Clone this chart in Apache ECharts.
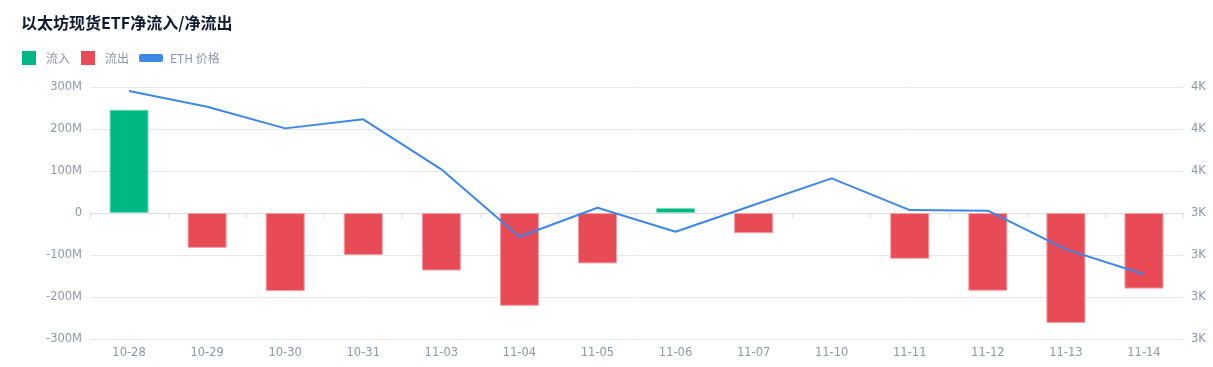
<!DOCTYPE html>
<html>
<head>
<meta charset="utf-8">
<script src="https://cdn.jsdelivr.net/npm/echarts@6/dist/echarts.min.js"></script>
<style>
html,body{margin:0;padding:0;background:#fff;}
#c{width:1213px;height:367px;}
</style>
</head>
<body>
<div id="c"></div>
<script>
const categories = ['10-28','10-29','10-30','10-31','11-03','11-04','11-05','11-06','11-07','11-10','11-11','11-12','11-13','11-14'];
// net flows in millions USD
const inflow = [246, '-', '-', '-', '-', '-', '-', 12, '-', '-', '-', '-', '-', '-'];
const outflow = ['-', -83, -186, -100, -137, -221, -120, '-', -48, '-', -109, -185, -262, -180];
// ETH price in USD
const ethPrice = [3981, 3906, 3803, 3846, 3608, 3287, 3425, 3311, 3438, 3565, 3414, 3411, 3227, 3108];

const FONT = "'DejaVu Sans', 'Noto Sans CJK SC', sans-serif";
const GREEN = '#00B884';
const RED = '#E84B55';
const BLUE = '#3D87E8';
const LABEL = '#8E97A8';

const chart = echarts.init(document.getElementById('c'));
chart.setOption({
  animation: false,
  textStyle: { fontFamily: FONT },
  title: {
    text: '以太坊现货ETF净流入/净流出',
    left: 16, top: 10,
    textStyle: { fontSize: 16, fontWeight: 'bold', color: '#0E1A30', fontFamily: "'Noto Sans CJK SC', sans-serif" }
  },
  legend: [
    {
      data: ['流入', '流出'],
      left: 22, top: 51, padding: 0,
      icon: 'rect', itemWidth: 14, itemHeight: 14, itemGap: 11,
      itemStyle: { borderWidth: 0 },
      textStyle: { color: LABEL, fontSize: 12, padding: [0, 0, 0, 5], fontFamily: "'Noto Sans CJK SC', sans-serif" }
    },
    {
      data: ['ETH 价格'],
      left: 139, top: 52, padding: 0,
      icon: 'roundRect', itemWidth: 24, itemHeight: 8,
      itemStyle: { borderWidth: 0 },
      textStyle: { color: LABEL, fontSize: 12, padding: [0, 0, 0, 2], fontFamily: "'Noto Sans CJK SC', sans-serif" }
    }
  ],
  grid: { left: 90, right: 30, top: 87, bottom: 28 },
  xAxis: [
    {
      type: 'category', data: categories, boundaryGap: true,
      axisLine: { onZero: true, lineStyle: { color: '#DCDFE4' } },
      axisTick: { show: true, length: 5, lineStyle: { color: '#DCDFE4' } },
      axisLabel: { show: false }
    },
    {
      type: 'category', data: categories, boundaryGap: true, position: 'bottom',
      axisLine: { show: false, onZero: false },
      axisTick: { show: false },
      axisLabel: { color: LABEL, fontSize: 11.5, margin: 8 }
    }
  ],
  yAxis: [
    {
      type: 'value', min: -300, max: 300, interval: 100,
      axisLine: { show: false }, axisTick: { show: false },
      splitLine: { lineStyle: { color: '#E6E8EC' } },
      axisLabel: { color: LABEL, fontSize: 11.5, margin: 8, formatter: v => v === 0 ? '0' : v + 'M' }
    },
    {
      type: 'value', min: 2800, max: 4000, interval: 200, position: 'right',
      axisLine: { show: false }, axisTick: { show: false },
      splitLine: { show: false },
      axisLabel: { color: LABEL, fontSize: 11.5, margin: 8, formatter: v => (v / 1000).toFixed(0) + 'K' }
    }
  ],
  series: [
    {
      name: '流入', type: 'bar', stack: 'flow', barWidth: '50%', xAxisIndex: 0, yAxisIndex: 0,
      data: inflow,
      itemStyle: { color: GREEN, borderColor: '#7FDCC1', borderWidth: 1 }
    },
    {
      name: '流出', type: 'bar', stack: 'flow', barWidth: '50%', xAxisIndex: 0, yAxisIndex: 0,
      data: outflow,
      itemStyle: { color: RED, borderColor: '#F3A0A6', borderWidth: 1 }
    },
    {
      name: 'ETH 价格', type: 'line', xAxisIndex: 0, yAxisIndex: 1,
      data: ethPrice, showSymbol: false, symbol: 'none',
      lineStyle: { color: BLUE, width: 2 },
      itemStyle: { color: BLUE }
    }
  ]
});
</script>
</body>
</html>
